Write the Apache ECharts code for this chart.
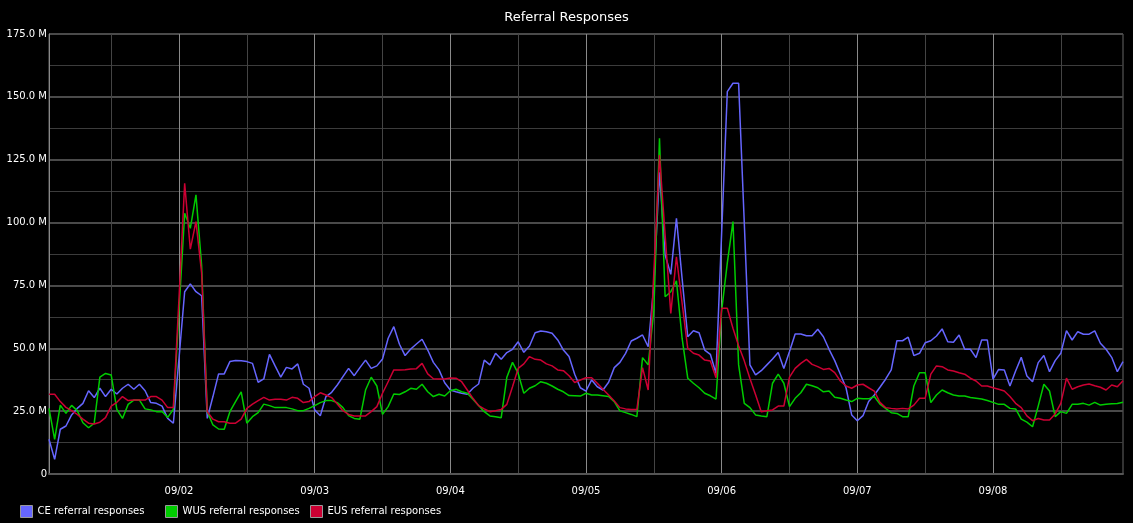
<!DOCTYPE html>
<html>
<head>
<meta charset="utf-8">
<title>Referral Responses</title>
<script src="https://cdn.jsdelivr.net/npm/echarts@6/dist/echarts.min.js"></script>
<style>
  html, body { margin: 0; padding: 0; background: #000; }
  #chart { width: 1133px; height: 523px; }
</style>
</head>
<body>
<div id="chart"></div>
<script>
// hourly samples from 09/01 01:00 to 09/08 23:00, values in millions
const firstHour = Date.UTC(2015, 8, 1, 1);

const seriesNames = ['CE referral responses', 'WUS referral responses', 'EUS referral responses'];
const seriesColors = ['#6666ff', '#00cc00', '#cc0033'];

const ceResponses = [
  13.8, 5.8, 17.8, 19.1, 23.5, 26.1, 28.1, 33.1, 30.4, 34.1, 30.8, 33.7, 31.8, 34.1, 35.7, 33.7, 35.7, 33.1, 28.4, 28.1, 27.0, 22.1, 20.2,
  46, 72.5, 75.6, 72.5, 70.9, 22.1, 30.8, 39.8, 39.8, 44.7, 45.1, 45.0, 44.7, 44.0, 36.5, 37.8, 47.6, 43.0, 38.5, 42.4, 41.8, 43.8, 35.7, 34.1,
  25.5, 23.2, 30.8, 32.5, 35.4, 38.7, 42.0, 39.1, 42.3, 45.3, 42.0, 43.0, 45.7, 54.0, 58.6, 51.6, 47.1, 49.7, 51.7, 53.6, 49.3, 44.4, 41.4, 36.3,
  33.4, 32.7, 32.1, 31.7, 34.1, 35.8, 45.3, 43.4, 48.0, 45.6, 48.3, 49.6, 52.6, 48.4, 50.9, 56.2, 56.9, 56.6, 56.0, 53.3, 49.3, 46.7, 39.7, 34.3,
  33.0, 37.4, 34.7, 33.4, 36.5, 42.3, 44.4, 48.0, 52.9, 54.0, 55.3, 50.6, 75, 120, 87.1, 79.4, 101.7, 77.8, 54.6, 57.0, 56.2, 49.3, 47.6, 40.0,
  96, 152.1, 155.4, 155.4, 100, 43.4, 39.4, 41.1, 43.4, 45.7, 48.3, 42.0, 48.7, 55.7, 55.7, 55.0, 55.0, 57.6, 54.6, 49.6, 45.1, 39.7, 34.3, 23.5,
  21.2, 23.2, 28.8, 31.4, 34.5, 37.7, 41.4, 53.0, 53.0, 54.4, 47.1, 48.0, 52.2, 53.0, 54.9, 57.7, 52.6, 52.4, 55.3, 49.6, 49.6, 46.3, 53.3, 53.3,
  37.7, 41.6, 41.4, 35.0, 41.0, 46.4, 39.0, 36.7, 44.3, 47.1, 40.7, 45.1, 48.0, 57.0, 53.3, 56.6, 55.6, 55.6, 56.9, 52.0, 49.6, 46.4, 40.7, 44.7
];

const wusResponses = [
  26.1, 13.8, 27.4, 24.1, 27.3, 25.2, 20.4, 18.4, 20.2, 38.5, 40.0, 39.4, 25.7, 22.1, 27.7, 29.4, 29.4, 25.9, 25.5, 24.8, 24.9, 22.5, 25.7,
  65, 103.7, 97.7, 111.0, 83, 24.8, 19.5, 17.9, 17.8, 24.8, 28.8, 32.7, 20.2, 22.8, 24.4, 27.8, 27.2, 26.4, 26.4, 26.4, 25.9, 25.2, 25.2, 26.1,
  27.2, 28.4, 29.2, 29.2, 28.4, 26.4, 23.2, 22.1, 21.8, 33.4, 38.5, 35.0, 23.7, 26.8, 31.8, 31.6, 32.7, 34.1, 33.7, 35.7, 32.7, 30.8, 31.7, 31.0,
  33.1, 33.7, 32.7, 32.1, 29.7, 27.2, 24.8, 23.1, 22.8, 22.4, 38.5, 44.4, 40.0, 32.1, 34.1, 35.1, 36.7, 36.1, 35.0, 33.7, 32.7, 31.2, 31.1, 31.0,
  32.1, 31.4, 31.4, 31.1, 30.8, 28.8, 25.1, 24.4, 23.7, 22.8, 46.3, 43.4, 65, 133.5, 70.5, 72.5, 76.8, 54.0, 38.1, 36.1, 34.3, 32.1, 31.1, 29.8,
  65, 84, 100.4, 43.4, 28.1, 26.4, 23.5, 23.1, 22.8, 36.1, 39.7, 36.1, 26.8, 30.1, 32.3, 35.7, 35.1, 34.3, 32.7, 33.0, 30.5, 30.1, 29.4, 28.8,
  30.1, 29.9, 29.9, 30.8, 27.8, 26.1, 24.4, 24.1, 22.8, 22.8, 35.0, 40.3, 40.3, 28.4, 31.4, 33.4, 32.3, 31.4, 31.0, 31.0, 30.4, 30.1, 29.8, 29.2,
  28.5, 27.7, 27.7, 26.1, 25.9, 21.8, 20.6, 18.8, 27, 35.7, 33.0, 22.8, 24.8, 24.1, 27.7, 27.7, 28.1, 27.4, 28.5, 27.4, 27.7, 27.9, 28.0, 28.5
];

const eusResponses = [
  31.7, 31.7, 28.8, 26.5, 25.2, 23.7, 21.8, 20.2, 19.9, 20.6, 22.4, 27.0, 28.5, 30.8, 29.2, 29.4, 29.4, 29.4, 30.8, 30.8, 29.4, 26.4, 26.4,
  70, 115.6, 89.4, 100.4, 80, 24.8, 21.8, 20.8, 20.8, 20.2, 20.2, 21.8, 26.1, 27.8, 29.2, 30.5, 29.4, 29.7, 29.7, 29.4, 30.5, 30.1, 28.4, 28.8,
  30.8, 32.3, 31.4, 30.4, 27.8, 25.2, 23.7, 23.1, 23.1, 23.1, 24.8, 26.8, 32.1, 36.7, 41.4, 41.4, 41.5, 41.8, 41.9, 44.0, 39.8, 37.9, 37.8, 37.8,
  38.2, 38.1, 36.7, 33.4, 30.1, 27.2, 25.9, 24.8, 25.2, 25.7, 27.7, 34.7, 42.0, 43.8, 46.7, 45.6, 45.3, 43.8, 43.0, 41.4, 41.1, 39.1, 36.4, 37.4,
  38.3, 38.3, 36.1, 33.7, 31.4, 29.0, 26.4, 25.9, 25.7, 25.7, 42.3, 33.4, 80, 126.9, 95, 63.9, 86.4, 68, 50.0, 48.0, 47.3, 45.3, 44.9, 38.3,
  65.9, 65.9, 58, 51, 45, 38, 31.5, 24.8, 25.2, 25.5, 27.0, 27.0, 38.5, 42.0, 44.0, 45.6, 43.6, 42.7, 41.6, 42.0, 40.3, 37.0, 35.0, 34.1,
  35.4, 35.7, 34.3, 33.0, 28.5, 26.4, 26.1, 25.9, 26.1, 25.9, 27.4, 30.1, 30.1, 39.7, 43.0, 42.7, 41.4, 41.0, 40.3, 39.7, 38.1, 37.0, 35.0, 35.0,
  34.3, 33.7, 33.0, 30.8, 28.1, 26.4, 23.1, 21.2, 22.1, 21.5, 21.5, 23.9, 28.1, 38.1, 33.7, 34.7, 35.4, 35.8, 35.1, 34.5, 33.4, 35.4, 34.7, 37.1
];

const seriesValues = [ceResponses, wusResponses, eusResponses];

const pad = n => (n < 10 ? '0' : '') + n;
const hours = ceResponses.map((v, i) => {
  const d = new Date(firstHour + i * 3600 * 1000);
  return pad(d.getUTCMonth() + 1) + '/' + pad(d.getUTCDate()) + ' ' + pad(d.getUTCHours()) + ':00';
});

const chart = echarts.init(document.getElementById('chart'));

// one legend block per series so the entries sit in even columns
const legends = seriesNames.map((name, i) => ({
  data: [name],
  left: 20 + i * 145,
  top: 505,
  padding: 0,
  icon: 'rect',
  itemWidth: 12,
  itemHeight: 12,
  itemStyle: {borderColor: '#999', borderWidth: 1},
  textStyle: {color: '#fff', fontSize: 10}
}));

const option = {
  backgroundColor: '#000',
  animation: false,
  textStyle: {fontFamily: 'DejaVu Sans'},
  title: {
    text: 'Referral Responses',
    left: 'center',
    top: 6,
    textStyle: {color: '#fff', fontSize: 13, fontWeight: 'normal', fontFamily: 'DejaVu Sans'}
  },
  legend: legends,
  grid: {
    left: 49, right: 10, top: 34, bottom: 49,
    show: true, borderColor: '#666', borderWidth: 1
  },
  xAxis: {
    type: 'category',
    data: hours,
    boundaryGap: false,
    axisLine: {lineStyle: {color: '#555', width: 2}},
    axisTick: {show: false},
    axisLabel: {
      color: '#fff',
      fontSize: 10,
      margin: 12,
      interval: idx => hours[idx].endsWith(' 00:00'),
      formatter: v => v.slice(0, 5)
    },
    splitLine: {
      show: true,
      interval: idx => /(00|12):00$/.test(hours[idx]),
      lineStyle: {color: ['#444', '#8a8a8a'], width: 1}
    }
  },
  yAxis: {
    type: 'value',
    min: 0,
    max: 175,
    interval: 25,
    axisLine: {show: true, lineStyle: {color: '#888', width: 1}},
    axisTick: {show: false},
    axisLabel: {
      color: '#fff',
      fontSize: 10,
      margin: 2,
      formatter: v => (v === 0 ? '0' : v.toFixed(1) + ' M')
    },
    splitLine: {lineStyle: {color: '#4a4a4a', width: 2}},
    minorTick: {show: false, splitNumber: 2},
    minorSplitLine: {show: true, lineStyle: {color: '#3c3c3c', width: 1}}
  },
  series: seriesNames.map((name, i) => ({
    name: name,
    type: 'line',
    data: seriesValues[i],
    showSymbol: false,
    symbol: 'none',
    color: seriesColors[i],
    lineStyle: {width: 1.5}
  }))
};

chart.setOption(option);
</script>
</body>
</html>
